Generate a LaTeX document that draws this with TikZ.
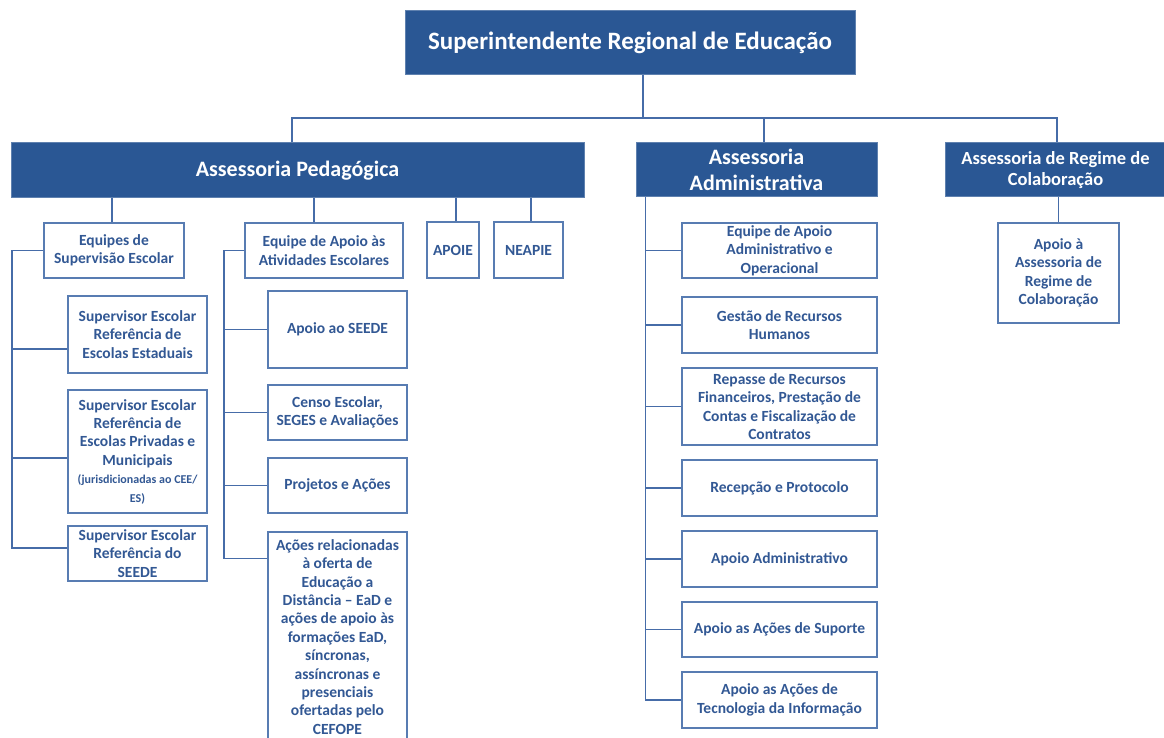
\documentclass[tikz,border=0pt]{standalone}
\usepackage{fontspec}
\setmainfont{Carlito}
\usetikzlibrary{calc}
\definecolor{dkblue}{RGB}{42,87,148}
\definecolor{bord}{RGB}{88,124,178}
\definecolor{txt}{RGB}{50,88,148}
\definecolor{lnc}{RGB}{70,108,168}
\begin{document}
\begin{tikzpicture}[x=1pt,y=-1pt,
 head/.style={fill=dkblue, draw=dkblue!75!white, line width=1pt, text=white, font=\bfseries\fontsize{22}{26}\selectfont, align=center, inner sep=0pt},
 box/.style={fill=white, draw=bord, line width=1.3pt, text=txt, font=\bfseries\fontsize{15.5}{18.4}\selectfont, align=center, inner sep=0pt},
 sz/.style 2 args={minimum width=#1pt, minimum height=#2pt},
 conn/.style={draw=lnc, line width=1.3pt}]
\useasboundingbox (0,0) rectangle (1164,738);

% level 0 and 1
\node[head, sz={450}{64}, font=\bfseries\fontsize{25}{30}\selectfont] (top) at (630,43) {Superintendente Regional de Educação};
\node[head, sz={573}{55}] (ped) at (297.5,170.5) {Assessoria Pedagógica};
\node[head, sz={241}{54}] (adm) at (756.5,170) {Assessoria\\Administrativa};
\node[head, sz={221}{54}, font=\bfseries\fontsize{18.5}{21}\selectfont] (reg) at (1055.5,170) {Assessoria de Regime de\\Colaboração};

% pedagogica
\node[box, sz={140}{55}] (eqsup) at (114,250.5) {Equipes de\\Supervisão Escolar};
\node[box, sz={139}{77}] (sup1) at (137.5,334.5) {Supervisor Escolar\\Referência de\\Escolas Estaduais};
\node[box, sz={139}{123}] (sup2) at (137.5,451.5) {Supervisor Escolar\\Referência de\\Escolas Privadas e\\Municipais\\{\fontsize{12}{15}\selectfont(jurisdicionadas ao CEE/}\\{\fontsize{12}{15}\selectfont ES)}};
\node[box, sz={139}{55}] (sup3) at (137.5,553.5) {Supervisor Escolar\\Referência do\\SEEDE};
\node[box, sz={158}{55}] (eqap) at (324,250.5) {Equipe de Apoio às\\Atividades Escolares};
\node[box, sz={52}{56}] (apoie) at (453,250) {APOIE};
\node[box, sz={69}{56}] (neapie) at (528.5,250) {NEAPIE};
\node[box, sz={139}{77}] (seede) at (337.5,329.5) {Apoio ao SEEDE};
\node[box, sz={139}{55}] (censo) at (337.5,412.5) {Censo Escolar,\\SEGES e Avaliações};
\node[box, sz={139}{55}] (proj) at (337.5,485.5) {Projetos e Ações};
\node[box, sz={139}{210}] (acoes) at (337.5,637) {Ações relacionadas\\à oferta de\\Educação a\\Distância -- EaD e\\ações de apoio às\\formações EaD,\\síncronas,\\assíncronas e\\presenciais\\ofertadas pelo\\CEFOPE};

% administrativa
\node[box, sz={195}{55}] (eqadm) at (779.5,250.5) {Equipe de Apoio\\Administrativo e\\Operacional};
\node[box, sz={195}{56}] (gestao) at (779.5,325) {Gestão de Recursos\\Humanos};
\node[box, sz={195}{77}] (repasse) at (779.5,406.5) {Repasse de Recursos\\Financeiros, Prestação de\\Contas e Fiscalização de\\Contratos};
\node[box, sz={195}{56}] (recep) at (779.5,488) {Recepção e Protocolo};
\node[box, sz={195}{56}] (apadm) at (779.5,559) {Apoio Administrativo};
\node[box, sz={195}{55}] (suporte) at (779.5,629.5) {Apoio as Ações de Suporte};
\node[box, sz={195}{56}] (tec) at (779.5,700) {Apoio as Ações de\\Tecnologia da Informação};

% regime
\node[box, sz={121}{100}] (apreg) at (1058.5,273) {Apoio à\\Assessoria de\\Regime de\\Colaboração};

% top connectors
\coordinate (bc) at (643,118);
\coordinate (bL) at (292,118);
\coordinate (bR) at (1057,118);
\coordinate (bA) at (764,118);
\draw[conn] (top.south -| bc) -- (bc);
\draw[conn] (bL |- ped.north) -- (bL) -- (bR) -- (bR |- reg.north);
\draw[conn] (bA) -- (bA |- adm.north);

% pedagogica drops
\draw[conn] ([xshift=-2pt]eqsup.north) -- ([xshift=-2pt]eqsup.north |- ped.south);
\draw[conn] ([xshift=-10pt]eqap.north) -- ([xshift=-10pt]eqap.north |- ped.south);
\draw[conn] ([xshift=3pt]apoie.north) -- ([xshift=3pt]apoie.north |- ped.south);
\draw[conn] ([xshift=2.5pt]neapie.north) -- ([xshift=2.5pt]neapie.north |- ped.south);

% left spine
\coordinate (sp1) at (12,0);
\coordinate (b1) at ($(sup1.west)+(0,14.5)$);
\coordinate (b2) at ($(sup2.west)+(0,6.5)$);
\coordinate (b3) at ($(sup3.west)+(0,-5.5)$);
\draw[conn] (eqsup.west) -| (sp1 |- b3) -- (b3);
\draw[conn] (sp1 |- b1) -- (b1);
\draw[conn] (sp1 |- b2) -- (b2);

% middle spine
\coordinate (sp2) at (224,0);
\coordinate (c4) at ($(acoes.north west)+(0,27)$);
\draw[conn] (eqap.west) -| (sp2 |- c4) -- (c4);
\foreach \n in {seede,censo,proj} \draw[conn] (sp2 |- \n.west) -- (\n.west);

% admin spine
\coordinate (sp3) at ($(adm.south west)+(10,0)$);
\draw[conn] (sp3) |- (tec.west);
\foreach \n in {eqadm,gestao,repasse,recep,apadm,suporte} \draw[conn] (sp3 |- \n.west) -- (\n.west);

% regime
\draw[conn] (apreg.north) -- (apreg.north |- reg.south);
\end{tikzpicture}
\end{document}
